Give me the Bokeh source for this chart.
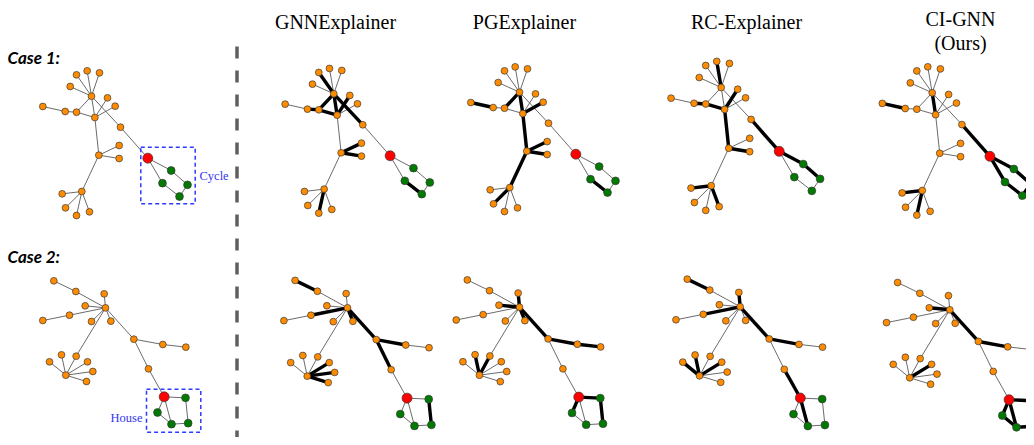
from bokeh.plotting import figure
from bokeh.models import ColumnDataSource, Range1d, Label
from bokeh.embed import file_html
from bokeh.resources import INLINE

# ---------------- data ----------------
# Case 1 (BA + cycle): node layout of the reference panel (pixel-like units)
c1_x = [91.0, 76.0, 86.67, 99.0, 69.67, 94.33, 107.0, 114.67, 76.0, 64.67, 42.33, 120.0,
        147.33, 170.67, 187.0, 179.0, 162.0,
        98.33, 118.67, 118.67, 81.33, 61.67, 65.0, 76.0, 89.0]
c1_y = [95.67, 74.33, 70.33, 72.33, 86.0, 117.0, 97.33, 105.67, 111.67, 111.0, 106.0, 126.67,
        157.67, 170.0, 184.33, 196.0, 182.67,
        154.67, 145.0, 158.0, 191.0, 193.33, 207.33, 215.0, 211.33]
c1_kind = ["o"] * 12 + ["r"] + ["g"] * 4 + ["o"] * 8
c1_edges = [(0, 1), (0, 2), (0, 3), (0, 4), (0, 5), (0, 8), (0, 11), (8, 5), (8, 9), (9, 10),
            (5, 6), (5, 7), (5, 17), (17, 18), (17, 19), (17, 20), (20, 21), (20, 22), (20, 23),
            (20, 24), (11, 12), (12, 13), (13, 14), (14, 15), (15, 16), (16, 12)]

# Case 2 (BA + house)
c2_x = [105.0, 103.67, 84.67, 91.0, 110.33, 75.33, 53.33, 69.0, 42.33, 133.33, 162.33, 185.33,
        148.0, 163.67, 185.0, 187.67, 171.0, 157.0, 75.67, 65.33, 49.0, 61.0, 87.0, 92.33, 86.0]
c2_y = [307.33, 293.33, 305.33, 321.0, 320.67, 291.0, 280.33, 314.67, 320.0, 338.67, 344.0, 346.67,
        368.33, 396.33, 397.33, 422.67, 423.67, 412.0, 355.67, 374.67, 361.33, 354.33, 361.33, 371.0, 381.0]
c2_kind = ["o"] * 13 + ["r"] + ["g"] * 4 + ["o"] * 7
c2_edges = [(0, 1), (0, 2), (0, 3), (0, 4), (0, 5), (5, 6), (0, 7), (7, 8), (0, 9), (9, 10),
            (10, 11), (9, 12), (12, 13), (13, 14), (14, 15), (15, 16), (16, 13), (13, 17), (17, 16),
            (0, 18), (18, 19), (19, 20), (19, 21), (19, 22), (19, 23), (19, 24)]

methods = ["GNNExplainer", "PGExplainer", "RC-Explainer", "CI-GNN\n(Ours)"]

# explanation edges (highlighted) per method
c1_thick = [
    [(0, 1), (0, 8), (8, 5), (8, 9), (0, 5), (5, 6), (0, 11), (17, 18), (17, 19), (16, 15), (20, 23)],
    [(0, 8), (9, 10), (0, 5), (5, 7), (5, 17), (17, 18), (17, 19), (17, 20), (20, 22), (16, 15)],
    [(0, 2), (8, 9), (8, 5), (5, 6), (5, 17), (17, 19), (11, 12), (12, 13), (13, 14), (20, 21), (20, 24)],
    [(9, 10), (0, 5), (11, 12), (12, 13), (13, 14), (14, 15), (15, 16), (16, 12), (20, 21), (20, 23)],
]
c2_thick = [
    [(6, 5), (7, 0), (0, 4), (0, 9), (9, 10), (9, 12), (19, 22), (19, 23), (19, 24), (14, 15)],
    [(0, 2), (0, 1), (0, 4), (0, 9), (9, 10), (10, 11), (19, 21), (18, 19), (13, 14), (14, 15), (13, 17)],
    [(6, 5), (7, 0), (0, 1), (0, 9), (9, 10), (19, 20), (19, 21), (19, 22), (12, 13), (13, 16)],
    [(0, 2), (0, 9), (9, 10), (19, 22), (13, 14), (14, 15), (15, 16), (16, 13), (13, 17), (17, 16)],
]

# ---------------- layout ----------------
# hub position and scale of each panel (reference panel first)
c1_hub = [(91.0, 95.67, 1.0), (333.3, 93.3, 1.0), (519.0, 91.7, 1.0), (720.7, 87.0, 1.03), (931.7, 92.3, 1.025)]
c2_hub = [(105.0, 307.33, 1.0), (347.0, 307.3, 1.015), (519.0, 306.7, 1.01), (739.7, 306.3, 1.025), (949.3, 309.3, 1.01)]
title_x = [335, 524, 746, 960]

ORANGE = "#FF8C00"
GREEN = "#007A00"
RED = "#FF0000"

p = figure(width=1026, height=437, x_range=Range1d(0, 1026), y_range=Range1d(437, 0),
           x_axis_location=None, y_axis_location=None, min_border=0,
           toolbar_location=None, output_backend="svg")
p.grid.visible = False
p.outline_line_color = None
p.background_fill_color = "white"
p.border_fill_color = "white"


def draw_graph(bx, by, kinds, edges, thick, hub):
    hx, hy, s = hub
    x = [hx + s * (v - bx[0]) for v in bx]
    y = [hy + s * (v - by[0]) for v in by]
    thick_set = {frozenset(e) for e in thick}
    thin_e = [e for e in edges if frozenset(e) not in thick_set]
    thick_e = [e for e in edges if frozenset(e) in thick_set]
    if thin_e:
        p.segment(x0=[x[a] for a, b in thin_e], y0=[y[a] for a, b in thin_e],
                  x1=[x[b] for a, b in thin_e], y1=[y[b] for a, b in thin_e],
                  line_color="#5a5a5a", line_width=0.9)
    if thick_e:
        p.segment(x0=[x[a] for a, b in thick_e], y0=[y[a] for a, b in thick_e],
                  x1=[x[b] for a, b in thick_e], y1=[y[b] for a, b in thick_e],
                  line_color="black", line_width=3.4)
    for k, col, sz in (("o", ORANGE, 6.8), ("g", GREEN, 7.8), ("r", RED, 10.0)):
        idx = [i for i, kk in enumerate(kinds) if kk == k]
        src = ColumnDataSource(dict(x=[x[i] for i in idx], y=[y[i] for i in idx]))
        p.scatter("x", "y", source=src, size=sz, fill_color=col, line_color="#3a3a3a", line_width=0.7)


for j in range(5):
    th1 = [] if j == 0 else c1_thick[j - 1]
    th2 = [] if j == 0 else c2_thick[j - 1]
    draw_graph(c1_x, c1_y, c1_kind, c1_edges, th1, c1_hub[j])
    draw_graph(c2_x, c2_y, c2_kind, c2_edges, th2, c2_hub[j])

# motif boxes
p.quad(left=[140.3, 146.0], right=[194.7, 200.3], top=[146.7, 388.7], bottom=[203.3, 431.7],
       fill_color=None, line_color="#2B3BFF", line_width=1.5, line_dash="4 3")

# divider
p.line(x=[236.5, 236.5], y=[46, 445], line_color="#5f5f5f", line_width=3.5, line_dash="12 12")

# texts
for txt, yy in (("Case 1:", 57), ("Case 2:", 256)):
    p.add_layout(Label(x=7, y=yy, text=txt, text_font="Lato", text_font_style="bold italic",
                       text_font_size="17px", text_baseline="middle", text_align="left",
                       text_color="black"))
p.add_layout(Label(x=199, y=175, text="Cycle", text_font="Liberation Serif", text_font_size="12.5px",
                   text_baseline="middle", text_align="left", text_color="#3535F0"))
p.add_layout(Label(x=110, y=417, text="House", text_font="Liberation Serif", text_font_size="12.5px",
                   text_baseline="middle", text_align="left", text_color="#3535F0"))

for i, m in enumerate(methods):
    lines = m.split("\n")
    for k, ln in enumerate(lines):
        yy = 21 if len(lines) == 1 else 18 + 24 * k
        p.add_layout(Label(x=title_x[i], y=yy, text=ln, text_font="Liberation Serif",
                           text_font_size="20px", text_baseline="middle", text_align="center",
                           text_color="black"))

open("out.html", "w").write(file_html(p, INLINE))
